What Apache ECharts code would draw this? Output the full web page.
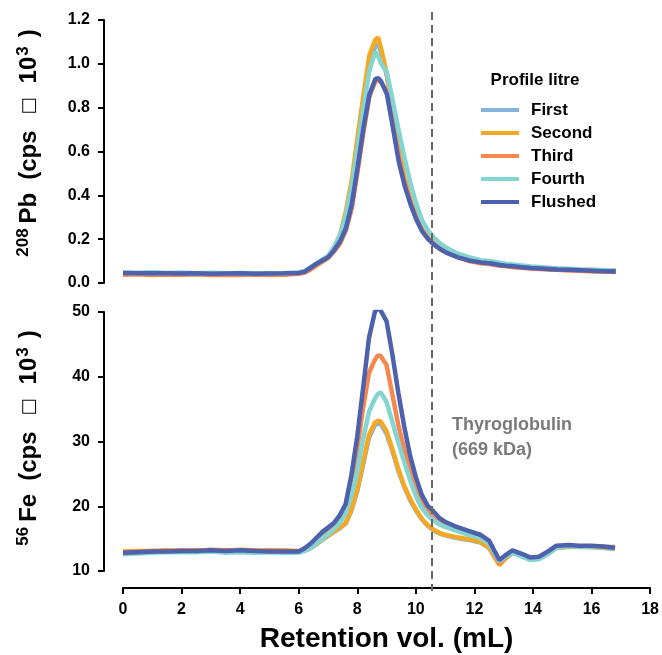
<!DOCTYPE html>
<html><head><meta charset="utf-8">
<script src="https://cdn.jsdelivr.net/npm/echarts@6/dist/echarts.min.js"></script>
<style>html,body{margin:0;padding:0;background:#fff}#c{width:662px;height:655px}</style>
</head><body><div id="c"></div>
<script>
const FONT = "'Liberation Sans', Arial, sans-serif";
const names = ['First','Second','Third','Fourth','Flushed'];
const colors = ['#86b3dd','#f6a823','#f6884f','#84d5d2','#4d61ad'];
const xTicks = [0,2,4,6,8,10,12,14,16,18];
const pbTicks = [0,0.2,0.4,0.6,0.8,1.0,1.2];
const feTicks = [10,20,30,40,50];
const markerX = 10.55;

const xs = [0,0.5,1,1.5,2,2.5,3,3.5,4,4.5,5,5.5,6,
 6.2,6.4,6.6,6.8,7,7.2,7.4,7.6,7.8,8,8.2,8.4,8.6,8.7,8.8,9,9.2,9.4,9.6,9.8,10,10.2,10.4,10.6,10.8,11,
 11.4,11.8,12.2,12.5,12.85,13.05,13.3,13.6,13.9,14.2,14.5,14.8,15.2,15.6,16,16.4,16.8];

const pbFirst = [0.045,0.043,0.046,0.044,0.045,0.042,0.044,0.043,0.041,0.043,0.042,0.043,0.046,
 0.05,0.065,0.084,0.1,0.118,0.155,0.21,0.31,0.45,0.64,0.83,1.0,1.08,1.09,1.05,0.94,0.77,0.6,0.47,0.375,0.3,0.245,0.205,0.18,0.16,0.145,
 0.122,0.106,0.096,0.092,0.085,0.082,0.078,0.074,0.07,0.068,0.066,0.064,0.061,0.059,0.057,0.055,0.053];
const pbSecond = [0.042,0.044,0.041,0.043,0.040,0.043,0.041,0.040,0.042,0.040,0.041,0.042,0.044,
 0.05,0.066,0.085,0.102,0.12,0.16,0.22,0.33,0.47,0.67,0.86,1.04,1.11,1.12,1.07,0.95,0.78,0.61,0.48,0.38,0.30,0.245,0.205,0.18,0.16,0.145,
 0.124,0.104,0.098,0.09,0.088,0.08,0.081,0.074,0.073,0.067,0.068,0.062,0.063,0.058,0.06,0.054,0.058];
const pbThird = [0.038,0.040,0.037,0.039,0.038,0.040,0.037,0.038,0.036,0.039,0.037,0.038,0.042,
 0.048,0.062,0.08,0.098,0.115,0.145,0.18,0.24,0.34,0.51,0.69,0.85,0.92,0.925,0.915,0.87,0.73,0.575,0.46,0.37,0.295,0.24,0.205,0.178,0.158,0.142,
 0.118,0.1,0.09,0.087,0.079,0.077,0.072,0.07,0.066,0.064,0.061,0.06,0.057,0.056,0.053,0.052,0.05];
const pbFourth = [0.048,0.047,0.049,0.046,0.048,0.045,0.047,0.044,0.046,0.045,0.044,0.046,0.049,
 0.055,0.072,0.09,0.108,0.125,0.165,0.22,0.31,0.44,0.62,0.80,0.97,1.055,1.035,1.0,0.96,0.83,0.695,0.57,0.455,0.36,0.285,0.24,0.207,0.182,0.163,
 0.135,0.118,0.104,0.1,0.092,0.088,0.084,0.08,0.075,0.073,0.07,0.067,0.065,0.062,0.06,0.058,0.056];
const pbFlushed = [0.046,0.045,0.044,0.045,0.043,0.044,0.042,0.043,0.044,0.042,0.043,0.044,0.046,
 0.052,0.07,0.088,0.103,0.118,0.15,0.19,0.25,0.36,0.53,0.71,0.86,0.93,0.935,0.92,0.86,0.71,0.555,0.445,0.36,0.29,0.235,0.2,0.175,0.155,0.14,
 0.118,0.103,0.094,0.09,0.082,0.079,0.076,0.072,0.068,0.066,0.064,0.062,0.06,0.058,0.056,0.054,0.052];

const feFirst = [12.8,12.9,13.0,13.0,13.1,13.0,13.1,13.0,13.0,12.9,13.0,12.9,13.0,
 13.1,13.5,14.1,14.8,15.4,16.0,16.6,17.3,19.3,22.3,26.4,30.6,32.5,32.8,32.7,31.2,28.5,25.5,23.0,21.0,19.4,18.0,17.0,16.3,15.8,15.5,
 15.1,14.8,14.4,13.6,11.0,11.9,12.8,12.3,11.8,11.9,12.6,13.6,13.8,13.7,13.7,13.6,13.4];
const feSecond = [13.0,13.1,13.1,13.2,13.1,13.2,13.2,13.1,13.3,13.2,13.1,13.2,13.1,
 13.2,13.6,14.2,14.9,15.5,16.1,16.7,17.4,19.5,22.6,26.8,31.0,32.9,33.2,33.1,31.6,28.8,25.8,23.2,21.2,19.5,18.1,17.1,16.4,15.9,15.6,
 15.2,14.9,14.5,13.6,10.9,11.9,12.9,12.4,11.9,12.0,12.7,13.6,13.7,13.8,13.7,13.6,13.5];
const feThird = [12.9,13.0,13.1,13.1,13.2,13.1,13.3,13.2,13.2,13.1,13.2,13.1,13.0,
 13.3,13.9,14.7,15.5,16.2,16.9,17.9,19.4,23.3,28.9,35.2,40.6,42.6,43.3,43.2,41.8,37.2,32.6,28.9,25.6,22.8,20.6,19.1,18.1,17.4,17.0,
 16.3,15.8,15.2,14.2,11.2,12.1,13.0,12.5,11.9,12.0,12.8,13.8,13.9,13.8,13.8,13.7,13.7];
const feFourth = [12.6,12.7,12.8,12.9,12.9,12.9,13.0,12.8,12.9,12.8,12.9,12.8,12.8,
 13.1,13.6,14.3,15.0,15.7,16.4,17.4,18.9,21.7,25.3,30.4,34.6,36.6,37.3,37.6,36.1,33.0,29.9,26.9,24.1,21.6,19.8,18.6,17.8,17.2,16.8,
 16.2,15.6,15.1,14.2,11.5,12.2,12.9,12.3,11.7,11.8,12.6,13.6,13.8,13.8,13.7,13.7,13.5];
const feFlushed = [12.8,12.9,13.0,13.0,13.1,13.1,13.2,13.1,13.2,13.1,13.0,13.0,13.0,
 13.5,14.2,15.1,16.0,16.7,17.4,18.6,20.3,24.8,30.8,38.3,46.0,50.0,50.7,50.2,48.6,43.4,37.6,32.4,27.9,24.5,21.8,20.1,19.2,18.2,17.6,
 16.8,16.2,15.6,14.7,11.7,12.4,13.2,12.7,12.1,12.2,13.0,13.9,14.0,13.9,13.9,13.8,13.6];

const pbSets = [pbFirst,pbSecond,pbThird,pbFourth,pbFlushed];
const feSets = [feFirst,feSecond,feThird,feFourth,feFlushed];

const chart = echarts.init(document.getElementById('c'), null, {renderer:'canvas'});

function mk(name, vals, color, gi){
  return {name, type:'line', xAxisIndex:gi, yAxisIndex:gi,
    data: xs.map((x,i)=>[x, vals[i]]), showSymbol:false, symbol:'none',
    lineStyle:{width:4.5,color}, itemStyle:{color}, emphasis:{disabled:true}};
}
const series = [];
names.forEach((n,i)=>series.push(mk(n,pbSets[i],colors[i],0)));
names.forEach((n,i)=>series.push(mk(n,feSets[i],colors[i],1)));

const axisLine = {show:true,onZero:false,lineStyle:{color:'#000',width:2}};
const axisTick = {show:true,length:6,lineStyle:{color:'#000',width:2}};
const lbl = {color:'#000',fontWeight:'bold',fontSize:16,fontFamily:FONT};

chart.setOption({
  animation:false,
  backgroundColor:'#fff',
  grid:[{left:123,right:11,top:20,height:263},{left:123,right:11,top:312,height:259}],
  xAxis:[
    {gridIndex:0,type:'value',min:xTicks[0],max:xTicks[xTicks.length-1],interval:2,show:false,splitLine:{show:false}},
    {gridIndex:1,type:'value',min:xTicks[0],max:xTicks[xTicks.length-1],interval:2,offset:17,
     axisLine,axisTick,splitLine:{show:false},axisLabel:{...lbl,margin:14},
     name:'Retention vol. (mL)',nameLocation:'middle',nameGap:37,
     nameTextStyle:{color:'#000',fontWeight:'bold',fontSize:28,fontFamily:FONT}}
  ],
  yAxis:[
    {gridIndex:0,type:'value',min:pbTicks[0],max:pbTicks[pbTicks.length-1],interval:0.2,offset:19,
     axisLine,axisTick,splitLine:{show:false},axisLabel:{...lbl,margin:14,formatter:v=>v.toFixed(1)}},
    {gridIndex:1,type:'value',min:feTicks[0],max:feTicks[feTicks.length-1],interval:10,offset:19,
     axisLine,axisTick,splitLine:{show:false},axisLabel:{...lbl,margin:14}}
  ],
  legend:{data:names,orient:'vertical',left:476,top:96,itemWidth:38,itemHeight:4,icon:'rect',itemGap:5,
    selectedMode:false,
    textStyle:{color:'#000',fontWeight:'bold',fontSize:17,fontFamily:FONT,lineHeight:18,padding:[0,0,0,7]}},
  series
});

const pTop = chart.convertToPixel({gridIndex:0},[markerX,pbTicks[pbTicks.length-1]]);
const pBot = chart.convertToPixel({gridIndex:1},[markerX,feTicks[0]]);
const mx = Math.round(pBot[0]);

const titleRich = {
  s:{fontSize:17,fontWeight:'bold',fontFamily:FONT,verticalAlign:'top',lineHeight:14,padding:[0,5,0,0]},
  b:{fontSize:24,fontWeight:'bold',fontFamily:FONT,lineHeight:28,padding:[0,13,0,0]},
  m:{fontSize:24,fontWeight:'bold',fontFamily:FONT,lineHeight:28,padding:[0,16,0,0]},
  g:{fontSize:18,fontFamily:"'DejaVu Sans', sans-serif",color:'#9a9a9a',lineHeight:28,padding:[0,14,0,0]},
  n:{fontSize:24,fontWeight:'bold',fontFamily:FONT,lineHeight:28,padding:[0,1,0,0]},
  u:{fontSize:17,fontWeight:'bold',fontFamily:FONT,verticalAlign:'top',lineHeight:14,padding:[0,9,0,0]},
  e:{fontSize:24,fontWeight:'bold',fontFamily:FONT,lineHeight:28}
};

chart.setOption({graphic:[
  {type:'line',shape:{x1:mx,y1:pTop[1]-8,x2:mx,y2:pBot[1]+20},silent:true,z:50,
   style:{stroke:'#666',lineWidth:2,lineDash:[8,5]}},
  {type:'text',x:mx+20,y:pBot[1]-133,silent:true,
   style:{text:'Thyroglobulin\n(669 kDa)',fill:'#7a7a7a',fontSize:18,fontWeight:'bold',fontFamily:FONT,lineHeight:25,align:'left',verticalAlign:'middle'}},
  {type:'text',x:535,y:80,silent:true,
   style:{text:'Profile litre',fill:'#000',fontSize:17,fontWeight:'bold',fontFamily:FONT,align:'center',verticalAlign:'middle'}},
  {type:'text',x:29,y:143,rotation:Math.PI/2,silent:true,
   style:{text:'{s|208}{b|Pb}{m|(cps}{g|\u25A1}{n|10}{u|3}{e|)}',rich:titleRich,fill:'#000',align:'center',verticalAlign:'middle'}},
  {type:'text',x:29,y:438,rotation:Math.PI/2,silent:true,
   style:{text:'{s|56}{b|Fe}{m|(cps}{g|\u25A1}{n|10}{u|3}{e|)}',rich:titleRich,fill:'#000',align:'center',verticalAlign:'middle'}}
]});
</script></body></html>
